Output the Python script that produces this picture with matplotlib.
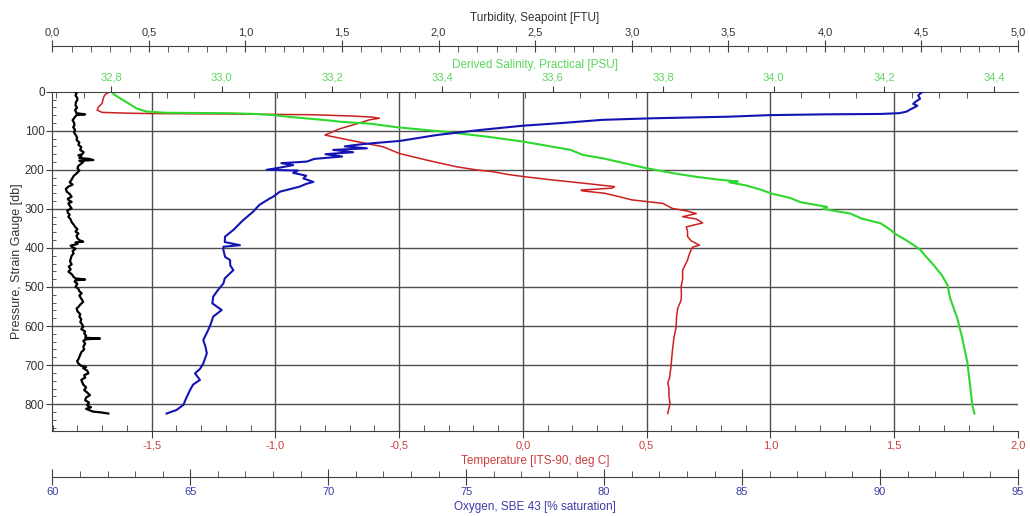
import numpy as np
import matplotlib
matplotlib.use("Agg")
import matplotlib.pyplot as plt
from matplotlib.ticker import MultipleLocator, FuncFormatter

plt.rcParams['font.family'] = ['Liberation Sans', 'DejaVu Sans']
plt.rcParams['font.size'] = 8

# =========================================================
# PROFILE DATA (pressure in db)
# =========================================================
temp_p = [0, 0, 2, 9, 17, 30, 39, 47, 53, 55, 56, 57, 59, 62, 65, 68, 72, 80, 95,
          111, 115, 124, 141, 158, 175, 192, 200, 205, 212, 218, 226, 235, 243, 247,
          252, 254, 260, 269, 277, 286, 299, 305, 312, 320, 326, 336, 346, 358, 371,
          382, 393, 398, 405, 420, 431, 457, 480, 499, 520, 534, 555, 580, 602, 630,
          662, 704, 734, 745, 760, 780, 798, 824]
temp_v = [-1.76, -1.68, -1.675, -1.69, -1.695, -1.70, -1.715, -1.72, -1.70, -1.60,
          -1.507, -1.20, -0.85, -0.70, -0.61, -0.58, -0.62, -0.66, -0.74,
          -0.80, -0.77, -0.70, -0.565, -0.50, -0.39, -0.27, -0.19, -0.12, -0.06,
          0.01, 0.12, 0.255, 0.37, 0.36, 0.235, 0.24, 0.33, 0.39, 0.44, 0.565,
          0.604, 0.66, 0.70, 0.645, 0.70, 0.726, 0.66, 0.665, 0.665, 0.68, 0.713,
          0.685, 0.679, 0.67, 0.665, 0.645, 0.645, 0.639, 0.64, 0.639, 0.625, 0.62,
          0.619, 0.61, 0.604, 0.598, 0.592, 0.585, 0.59, 0.59, 0.594, 0.585]

sal_p = [0, 9, 17, 30, 43, 51, 54, 55, 57, 60, 64, 68, 73, 77, 82, 91, 102, 115, 128,
         149, 162, 171, 196, 209, 218, 225, 230, 232, 240, 250, 261, 272, 283, 295,
         300, 312, 325, 337, 352, 367, 380, 393, 405, 425, 444, 470, 495, 529, 580,
         632, 692, 751, 802, 824]
sal_v = [32.80, 32.807, 32.816, 32.831, 32.846, 32.864, 32.90, 33.01, 33.06, 33.094,
         33.12, 33.15, 33.19, 33.215, 33.27, 33.317, 33.40, 33.48, 33.547, 33.632,
         33.655, 33.692, 33.77, 33.819, 33.86, 33.90, 33.935, 33.92, 33.95, 33.975,
         33.997, 34.03, 34.049, 34.097, 34.09, 34.139, 34.16, 34.194, 34.21, 34.224,
         34.24, 34.254, 34.266, 34.278, 34.29, 34.305, 34.315, 34.32, 34.333, 34.342,
         34.351, 34.356, 34.36, 34.364]

oxy_p = [0, 5, 10, 18, 25, 31, 36, 40, 46, 51, 55, 57, 58, 60, 64, 68, 72, 80, 87, 98,
         111, 126, 132, 135, 140, 145, 149, 155, 160, 166, 172, 179, 183, 188, 195, 200,
         202, 208, 215, 222, 231, 236, 243, 256, 269, 273, 290, 307, 330, 354, 371, 385,
         393, 397, 405, 423, 431, 445, 457, 478, 491, 508, 525, 542, 559, 576, 593, 610,
         636, 653, 670, 696, 710, 721, 738, 750, 764, 785, 802, 815, 824]
oxy_v = [91.56, 91.45, 91.38, 91.45, 91.3, 91.2, 91.35, 91.25, 91.08, 90.96, 90.7,
         90.0, 88.0, 86.0, 84.5, 81.8, 79.96, 78.5, 77.07, 75.5, 73.93, 72.6, 71.6,
         71.15, 70.6, 71.4, 70.18, 70.9, 69.9, 70.5, 69.5, 69.22, 68.3, 68.73, 68.2,
         67.77, 68.9, 68.73, 69.2, 69.1, 69.46, 69.2, 68.97, 68.25, 68.0, 67.89, 67.5,
         67.28, 66.9, 66.56, 66.26, 66.25, 66.8, 66.2, 66.2, 66.26, 66.44, 66.45,
         66.56, 66.25, 66.2, 66.0, 65.83, 65.8, 66.14, 65.83, 65.75, 65.65, 65.47,
         65.55, 65.6, 65.47, 65.35, 65.17, 65.35, 65.1, 64.99, 64.85, 64.75, 64.5, 64.14]

turb_p = [0, 5, 10, 15, 21, 27, 35, 41, 47, 52, 55, 58, 60, 66, 73, 79, 85, 91, 98,
          104, 110, 117, 124, 130, 136, 142, 149, 155, 160, 163, 166, 170, 172, 175,
          177, 180, 184, 190, 196, 202, 209, 216, 225, 232, 238, 243, 249, 256, 262,
          269, 274, 278, 282, 286, 292, 299, 304, 310, 315, 320, 327, 334, 340, 346,
          352, 358, 363, 369, 375, 380, 384, 386, 390, 394, 397, 402, 408, 414, 420,
          428, 435, 442, 448, 455, 461, 467, 474, 478, 481, 483, 486, 492, 499, 505,
          511, 516, 522, 530, 538, 545, 551, 555, 562, 570, 576, 583, 590, 596, 602,
          608, 614, 619, 625, 630, 632, 634, 638, 645, 653, 660, 667, 673, 679, 685,
          690, 696, 702, 705, 708, 714, 721, 726, 732, 738, 744, 750, 757, 764, 770,
          777, 783, 790, 796, 803, 808, 812, 815, 819, 821, 824]
turb_v = [0.118, 0.125, 0.12, 0.128, 0.13, 0.122, 0.12, 0.128, 0.118, 0.122, 0.125,
          0.17, 0.125, 0.115, 0.105, 0.112, 0.115, 0.108, 0.118, 0.112, 0.12, 0.128,
          0.126, 0.14, 0.135, 0.15, 0.144, 0.162, 0.155, 0.135, 0.15, 0.14, 0.19,
          0.212, 0.14, 0.16, 0.15, 0.135, 0.13, 0.14, 0.126, 0.11, 0.1, 0.09, 0.105,
          0.083, 0.07, 0.075, 0.09, 0.10, 0.08, 0.085, 0.1, 0.083, 0.09, 0.10, 0.078,
          0.08, 0.09, 0.083, 0.095, 0.1, 0.11, 0.118, 0.13, 0.12, 0.135, 0.125, 0.13,
          0.14, 0.16, 0.12, 0.13, 0.095, 0.10, 0.12, 0.105, 0.11, 0.1, 0.095, 0.092,
          0.1, 0.085, 0.095, 0.083, 0.1, 0.11, 0.12, 0.17, 0.12, 0.115, 0.13, 0.12,
          0.135, 0.14, 0.152, 0.14, 0.15, 0.16, 0.145, 0.135, 0.126, 0.13, 0.145, 0.14,
          0.15, 0.145, 0.155, 0.16, 0.15, 0.17, 0.165, 0.175, 0.17, 0.247, 0.175, 0.16,
          0.17, 0.16, 0.165, 0.15, 0.145, 0.14, 0.135, 0.128, 0.135, 0.15, 0.175, 0.16,
          0.18, 0.187, 0.165, 0.17, 0.15, 0.155, 0.16, 0.175, 0.165, 0.18, 0.195,
          0.175, 0.17, 0.19, 0.18, 0.2, 0.175, 0.19, 0.21, 0.25, 0.29]

GRID_T = [-1.5, -1.0, -0.5, 0.0, 0.5, 1.0, 1.5]
GRID_P = [100, 200, 300, 400, 500, 600, 700, 800]

# colours
C_TURB = "#000000"
C_SAL, C_SAL_TXT = "#2ed82e", "#5cd65c"
C_TEMP, C_TEMP_TXT = "#cc1f1f", "#c84040"
C_OXY, C_OXY_TXT = "#1414b4", "#3c3ca8"
C_AX = "#404040"

comma = FuncFormatter(lambda v, pos: f"{v:.1f}".replace(".", ","))

# =========================================================
# FIGURE / AXES
# =========================================================
fig = plt.figure(figsize=(10.3, 5.16), dpi=100)
ax = fig.add_axes([0.0508, 0.1653, 0.9376, 0.657])

# Temperature (main x, bottom)
ax.set_xlim(-1.901, 2.0)
ax.set_ylim(868, 0)
ax.xaxis.set_major_locator(MultipleLocator(0.5))
ax.xaxis.set_minor_locator(MultipleLocator(0.1))
ax.xaxis.set_major_formatter(comma)
ax.yaxis.set_major_locator(MultipleLocator(100))
ax.yaxis.set_minor_locator(MultipleLocator(20))
ax.tick_params(axis="x", which="major", direction="out", length=5, pad=2,
               color=C_AX, labelcolor=C_TEMP_TXT)
ax.tick_params(axis="x", which="minor", direction="in", length=4.3, color=C_AX)
ax.tick_params(axis="y", which="major", direction="out", length=4, pad=1.5,
               color=C_AX, labelcolor="#333333", labelsize=8.5)
ax.tick_params(axis="y", which="minor", direction="in", length=3, color=C_AX)
for s in ["top", "right"]:
    ax.spines[s].set_visible(False)
for s in ["left", "bottom"]:
    ax.spines[s].set_color(C_AX)

for t in GRID_T:
    ax.axvline(t, color="#505050", lw=1.0, zorder=0.5)
for p in GRID_P:
    ax.axhline(p, color="#505050", lw=1.0, zorder=0.5)

ax.plot(temp_v, temp_p, color=C_TEMP, lw=1.1)

# Salinity (top of plot frame)
ax_s = ax.twiny()
ax_s.set_xlim(32.693, 34.443)
ax_s.xaxis.set_major_locator(MultipleLocator(0.2))
ax_s.xaxis.set_minor_locator(MultipleLocator(0.05))
ax_s.xaxis.set_major_formatter(comma)
ax_s.tick_params(axis="x", which="major", direction="out", length=4.3, pad=2.3,
                 color=C_AX, labelcolor=C_SAL_TXT)
ax_s.tick_params(axis="x", which="minor", direction="in", length=4.3, color=C_AX)
for s in ["bottom", "left", "right"]:
    ax_s.spines[s].set_visible(False)
ax_s.spines["top"].set_color(C_AX)
ax_s.plot(sal_v, sal_p, color=C_SAL, lw=1.5)

# Oxygen (detached bottom axis)
ax_o = ax.twiny()
ax_o.xaxis.set_ticks_position("bottom")
ax_o.spines["bottom"].set_position(("outward", 33.5))
ax_o.set_xlim(60, 95)
ax_o.xaxis.set_major_locator(MultipleLocator(5))
ax_o.xaxis.set_minor_locator(MultipleLocator(1))
ax_o.tick_params(axis="x", which="major", direction="inout", length=11, pad=1.5,
                 color=C_AX, labelcolor=C_OXY_TXT)
ax_o.tick_params(axis="x", which="minor", direction="in", length=4.3, color=C_AX)
for s in ["top", "left", "right"]:
    ax_o.spines[s].set_visible(False)
ax_o.spines["bottom"].set_color(C_AX)
ax_o.plot(oxy_v, oxy_p, color=C_OXY, lw=1.5)

# Turbidity (detached top axis)
ax_t = ax.twiny()
ax_t.spines["top"].set_position(("outward", 33))
ax_t.set_xlim(0, 5)
ax_t.xaxis.set_major_locator(MultipleLocator(0.5))
ax_t.xaxis.set_minor_locator(MultipleLocator(0.1))
ax_t.xaxis.set_major_formatter(comma)
ax_t.tick_params(axis="x", which="major", direction="inout", length=8, pad=2,
                 color=C_AX, labelcolor="#333333")
ax_t.tick_params(axis="x", which="minor", direction="in", length=4.3, color=C_AX)
for s in ["bottom", "left", "right"]:
    ax_t.spines[s].set_visible(False)
ax_t.spines["top"].set_color(C_AX)
ax_t.plot(turb_v, turb_p, color=C_TURB, lw=1.6)

# =========================================================
# AXIS TITLES
# =========================================================
W, H = 1030.0, 516.0
cx = 535 / W
fig.text(cx, 1 - 18 / H, "Turbidity, Seapoint [FTU]", ha="center", va="center",
         color="#333333", fontsize=8.5)
fig.text(cx, 1 - 65 / H, "Derived Salinity, Practical [PSU]", ha="center",
         va="center", color=C_SAL_TXT, fontsize=8.5)
fig.text(cx, 1 - 461 / H, "Temperature [ITS-90, deg C]", ha="center", va="center",
         color=C_TEMP_TXT, fontsize=8.5)
fig.text(cx, 1 - 507 / H, "Oxygen, SBE 43 [% saturation]", ha="center",
         va="center", color=C_OXY_TXT, fontsize=8.5)
fig.text(17 / W, 1 - 261 / H, "Pressure, Strain Gauge [db]", ha="center",
         va="center", rotation=90, color="#333333", fontsize=9)

fig.savefig("out.png", dpi=100)
